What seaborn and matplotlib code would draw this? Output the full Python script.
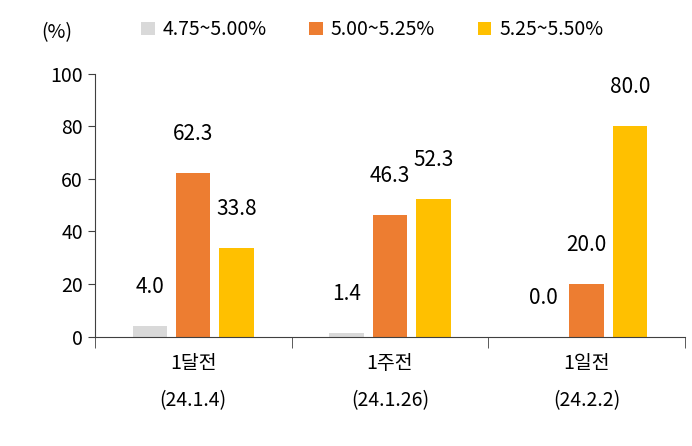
import matplotlib.pyplot as plt
import seaborn as sns
import pandas as pd

plt.rcParams['font.family'] = ['Noto Sans CJK KR', 'Noto Sans CJK JP', 'Noto Sans CJK SC', 'DejaVu Sans']

periods = ['1달전\n(24.1.4)', '1주전\n(24.1.26)', '1일전\n(24.2.2)']
ranges = ['4.75~5.00%', '5.00~5.25%', '5.25~5.50%']
low = [4.0, 1.4, 0.0]
mid = [62.3, 46.3, 20.0]
high = [33.8, 52.3, 80.0]
colors = ['#d9d9d9', '#ed7d31', '#ffc000']

rows = []
for i, p in enumerate(periods):
    for r, vals in zip(ranges, [low, mid, high]):
        rows.append({'period': p, 'range': r, 'value': vals[i]})
df = pd.DataFrame(rows)

fig, ax = plt.subplots(figsize=(6.92, 4.46), dpi=100)
fig.subplots_adjust(left=0.137, right=0.99, top=0.835, bottom=0.245)

sns.barplot(data=df, x='period', y='value', hue='range', palette=colors,
            saturation=1, width=0.66, gap=0.2, ax=ax, legend=True)

for cont in ax.containers:
    ax.bar_label(cont, fmt='%.1f', padding=20, fontsize=15)

ax.set_ylim(0, 100)
ax.set_yticks(range(0, 101, 20))
ax.set_xlim(-0.5, 2.5)
ax.set_xlabel('')
ax.set_ylabel('')
ax.tick_params(axis='y', labelsize=14, direction='out', length=5, color='#404040')
ax.tick_params(axis='x', labelsize=14, length=0, pad=12)
ax.set_xticks([-0.5, 0.5, 1.5, 2.5], minor=True)
ax.tick_params(axis='x', which='minor', length=8, color='#404040')
for s in ['top', 'right']:
    ax.spines[s].set_visible(False)
for s in ['left', 'bottom']:
    ax.spines[s].set_color('#404040')
plt.setp(ax.get_xticklabels(), linespacing=2.0)

ax.legend(loc='lower center', bbox_to_anchor=(0.47, 1.06), ncol=3, frameon=False,
          fontsize=14, handlelength=0.7, handleheight=0.7, handletextpad=0.4,
          columnspacing=2.2)
fig.text(0.06, 0.915, '(%)', fontsize=14)

plt.savefig('out.png', dpi=100)
plt.close()
